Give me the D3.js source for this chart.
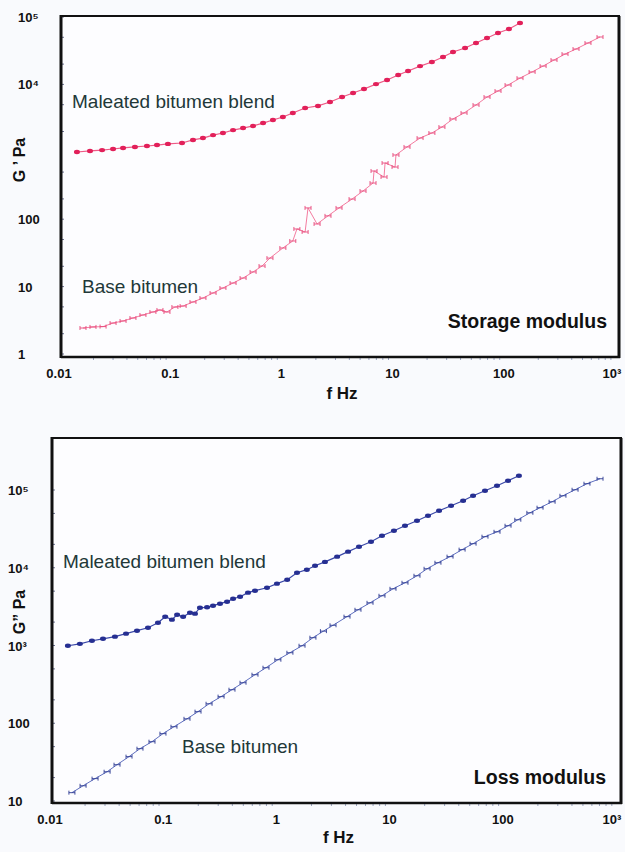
<!DOCTYPE html>
<html>
<head>
<meta charset="utf-8">
<script src="https://cdn.jsdelivr.net/npm/d3@7"></script>
<style>
  body { margin: 0; background: #f9fafd; }
  svg { display: block; font-family: "Liberation Sans", Arial, sans-serif; }
</style>
</head>
<body>
<div class="gv-chart-wrapper"></div>
<script>
// storage modulus G' (Pa) vs frequency (Hz)
const storageBlendFreq = [0.0142, 0.0186, 0.0239, 0.0300, 0.0369, 0.0472, 0.0605, 0.0745, 0.0935, 0.125, 0.157, 0.193, 0.238, 0.292, 0.360, 0.443, 0.545, 0.670, 0.822, 1.01, 1.24, 1.60, 2.09, 2.68, 3.44, 4.32, 5.42, 6.95, 8.73, 11.0, 13.5, 17.3, 22.1, 27.8, 34.2, 43.9, 55.1, 69.2, 86.9, 109, 137]
const storageBlendG = [993, 1030, 1060, 1100, 1140, 1180, 1220, 1260, 1310, 1350, 1500, 1600, 1770, 1900, 2100, 2250, 2420, 2670, 2960, 3280, 3770, 4470, 4790, 5480, 6500, 7450, 8550, 10100, 11600, 13800, 15800, 18700, 21500, 25500, 30300, 34700, 41100, 48800, 57900, 66400, 81500]

const storageBaseFreq = [0.0161, 0.0198, 0.0244, 0.0300, 0.0369, 0.0453, 0.0557, 0.0685, 0.0792, 0.0916, 0.108, 0.128, 0.157, 0.193, 0.238, 0.292, 0.360, 0.443, 0.545, 0.656, 0.773, 1.01, 1.24, 1.35, 1.60, 1.70, 2.05, 2.57, 3.23, 4.23, 5.31, 6.53, 6.67, 8.20, 8.38, 10.3, 10.5, 13.2, 17.3, 22.1, 27.2, 34.2, 43.0, 55.1, 69.2, 86.9, 107, 137, 176, 221, 277, 348, 437, 560, 718]
const storageBaseG = [2.43, 2.52, 2.55, 2.88, 3.09, 3.42, 3.79, 4.20, 4.50, 4.20, 4.98, 5.15, 5.91, 6.77, 8.04, 9.53, 11.3, 13.4, 16.5, 20.2, 26.5, 37.4, 47.5, 71.6, 64.6, 147, 84.9, 112, 147, 199, 262, 344, 519, 423, 682, 594, 897, 1180, 1600, 1900, 2330, 3070, 3770, 4950, 6500, 7980, 9790, 12400, 15300, 18700, 23000, 28200, 33500, 41100, 50500]

// loss modulus G'' (Pa) vs frequency (Hz)
const lossBlendFreq = [0.0141, 0.0180, 0.0230, 0.0288, 0.0367, 0.0460, 0.0575, 0.0719, 0.0881, 0.102, 0.117, 0.130, 0.147, 0.169, 0.187, 0.207, 0.239, 0.270, 0.311, 0.359, 0.406, 0.468, 0.550, 0.634, 0.809, 0.991, 1.22, 1.49, 1.82, 2.15, 2.63, 3.37, 4.21, 5.26, 6.71, 8.39, 10.7, 13.4, 17.1, 21.4, 26.8, 34.2, 43.7, 53.5, 68.2, 87.1, 109, 136]
const lossBlendG = [993, 1050, 1150, 1220, 1300, 1420, 1550, 1690, 1960, 2340, 2150, 2490, 2340, 2640, 2570, 3060, 3100, 3250, 3450, 3660, 4000, 4240, 4780, 5070, 5530, 6240, 7020, 8630, 9440, 10600, 11900, 13900, 16100, 18600, 21600, 25800, 29900, 34700, 40300, 46700, 54100, 62800, 72800, 84300, 97900, 113500, 131500, 152800]

const lossBaseFreq = [0.0153, 0.0192, 0.0245, 0.0313, 0.0383, 0.0489, 0.0611, 0.0780, 0.0975, 0.122, 0.159, 0.199, 0.249, 0.318, 0.397, 0.497, 0.634, 0.793, 1.01, 1.29, 1.65, 2.06, 2.55, 3.10, 4.12, 5.15, 6.58, 8.39, 10.5, 13.4, 17.1, 21.0, 26.2, 33.5, 42.8, 53.5, 68.2, 87.1, 109, 133, 170, 209, 267, 333, 426, 543, 708]
const lossBaseG = [12.8, 15.7, 19.4, 23.8, 29.3, 37.2, 47.1, 57.9, 73.5, 90.2, 114, 141, 178, 220, 270, 332, 421, 518, 656, 807, 993, 1260, 1530, 1820, 2350, 2880, 3540, 4360, 5360, 6410, 7890, 9700, 11600, 13900, 17100, 20400, 25100, 29000, 34700, 41400, 50900, 59200, 70600, 84300, 100700, 120500, 139600]

const freqTicks = [0.01, 0.1, 1, 10, 100, 1000]
const freqTickLabels = ['0.01', '0.1', '1', '10', '100', '10³']
const storageTicks = [1, 10, 100, 1e4, 1e5]
const storageTickLabels = ['1', '10', '100', '10⁴', '10⁵']
const lossTicks = [10, 100, 1e3, 1e4, 1e5]
const lossTickLabels = ['10', '100', '10³', '10⁴', '10⁵']

const zip = (fs, gs) => fs.map((f, i) => ({ f: f, g: gs[i] }))

const svg = d3.select('.gv-chart-wrapper')
  .append('svg')
  .attr('width', 625)
  .attr('height', 852)

const panels = [
  {
    frame: {left: 61, top: 16, right: 619, bottom: 357},
    x: d3.scaleLog().domain([0.01, 1000]).range([60, 616]),
    y: d3.scaleLog().domain([1, 1e5]).range([354, 17]),
    yTicks: storageTicks, yTickLabels: storageTickLabels, yLabelX: 18,
    yTitle: 'G \u2019 Pa', yTitleY: 160,
    xTitleY: 399,
    title: 'Storage modulus', titleX: 607, titleY: 328,
    blend: zip(storageBlendFreq, storageBlendG),
    base: zip(storageBaseFreq, storageBaseG),
    blendLine: '#ee5a86', blendDot: '#e2205a',
    baseLine: '#f47ca0', baseMark: '#e8487a',
    blendText: [72, 108], baseText: [82, 293]
  },
  {
    frame: {left: 52, top: 438, right: 621, bottom: 803},
    x: d3.scaleLog().domain([0.01, 1000]).range([51, 617]),
    y: d3.scaleLog().domain([10, 1e5]).range([801, 490]),
    yTicks: lossTicks, yTickLabels: lossTickLabels, yLabelX: 8,
    yTitle: 'G\u201D Pa', yTitleY: 612,
    xTitleY: 843,
    title: 'Loss modulus', titleX: 606, titleY: 784,
    blend: zip(lossBlendFreq, lossBlendG),
    base: zip(lossBaseFreq, lossBaseG),
    blendLine: '#3a48a8', blendDot: '#262f92',
    baseLine: '#6070c0', baseMark: '#2c3a92',
    blendText: [63, 568], baseText: [182, 753]
  }
]

panels.forEach(p => {
  const g = svg.append('g')
  const fr = p.frame

  g.append('rect')
    .attr('x', fr.left).attr('y', fr.top)
    .attr('width', fr.right - fr.left).attr('height', fr.bottom - fr.top)
    .style('fill', '#fdfdff')

  // minor ticks
  const minorX = []
  freqTicks.slice(0, -1).forEach(t => [2, 3, 4, 5, 6, 7, 8, 9].forEach(m => minorX.push(t * m)))
  g.append('g').selectAll('line')
    .data(minorX)
    .enter().append('line')
    .attr('x1', d => p.x(d)).attr('x2', d => p.x(d))
    .attr('y1', fr.bottom).attr('y2', fr.bottom + 3)
    .style('stroke', '#9aa4c0').style('stroke-width', 1)

  const yDom = p.y.domain()
  const minorY = []
  for (let t = yDom[0]; t < 1e5; t *= 10) [2, 5].forEach(m => minorY.push(t * m))
  g.append('g').selectAll('line')
    .data(minorY.concat(p.yTicks))
    .enter().append('line')
    .attr('x1', fr.left).attr('x2', fr.left + 3)
    .attr('y1', d => p.y(d)).attr('y2', d => p.y(d))
    .style('stroke', '#6a7090').style('stroke-width', 1)

  // frame
  g.append('line').attr('x1', fr.left).attr('x2', fr.right + 1).attr('y1', fr.top).attr('y2', fr.top)
    .style('stroke', '#111').style('stroke-width', 2.2)
  g.append('line').attr('x1', fr.right).attr('x2', fr.right).attr('y1', fr.top).attr('y2', fr.bottom + 1)
    .style('stroke', '#111').style('stroke-width', 3)
  g.append('line').attr('x1', fr.left).attr('x2', fr.right + 1).attr('y1', fr.bottom).attr('y2', fr.bottom)
    .style('stroke', '#111').style('stroke-width', 2.6)
  g.append('line').attr('x1', fr.left).attr('x2', fr.left).attr('y1', fr.top - 1).attr('y2', fr.bottom + 1)
    .style('stroke', '#111').style('stroke-width', 3)

  // tick labels
  g.append('g').selectAll('text')
    .data(freqTicks)
    .enter().append('text')
    .attr('x', d => Math.min(p.x(d) - 1, 612))
    .attr('y', fr.bottom + 21)
    .attr('text-anchor', 'middle')
    .style('font-size', '13px').style('font-weight', 'bold').style('fill', '#111')
    .text((d, i) => freqTickLabels[i])

  g.append('g').selectAll('text')
    .data(p.yTicks)
    .enter().append('text')
    .attr('x', p.yLabelX)
    .attr('y', d => p.y(d) + 5)
    .style('font-size', '13px').style('font-weight', 'bold').style('fill', '#111')
    .text((d, i) => p.yTickLabels[i])

  // axis titles
  g.append('text')
    .attr('x', (fr.left + fr.right) / 2 + 2)
    .attr('y', p.xTitleY)
    .attr('text-anchor', 'middle')
    .style('font-size', '17px').style('font-weight', 'bold').style('fill', '#111')
    .text('f Hz')

  g.append('text')
    .attr('transform', 'translate(25,' + p.yTitleY + ') rotate(-90)')
    .attr('text-anchor', 'middle')
    .style('font-size', '16px').style('font-weight', 'bold').style('fill', '#111')
    .text(p.yTitle)

  g.append('text')
    .attr('x', p.titleX).attr('y', p.titleY)
    .attr('text-anchor', 'end')
    .style('font-size', '19.5px').style('font-weight', 'bold').style('fill', '#111')
    .text(p.title)

  // series
  const line = d3.line().x(d => p.x(d.f)).y(d => p.y(d.g))

  g.append('path')
    .data([p.base])
    .attr('d', line)
    .style('fill', 'none').style('stroke', p.baseLine).style('stroke-width', 1)

  g.append('g').selectAll('path')
    .data(p.base)
    .enter().append('path')
    .attr('transform', d => 'translate(' + p.x(d.f) + ',' + p.y(d.g) + ')')
    .attr('d', 'M-3,-2V2M-3,0H3M3,-2V2')
    .style('fill', 'none').style('stroke', p.baseMark).style('stroke-width', 0.9)

  g.append('path')
    .data([p.blend])
    .attr('d', line)
    .style('fill', 'none').style('stroke', p.blendLine).style('stroke-width', 1.2)

  g.append('g').selectAll('ellipse')
    .data(p.blend)
    .enter().append('ellipse')
    .attr('cx', d => p.x(d.f))
    .attr('cy', d => p.y(d.g))
    .attr('rx', 3).attr('ry', 2.2)
    .style('fill', p.blendDot)

  // series labels
  g.append('text')
    .attr('x', p.blendText[0]).attr('y', p.blendText[1])
    .style('font-size', '19px').style('fill', '#223838')
    .text('Maleated bitumen blend')

  g.append('text')
    .attr('x', p.baseText[0]).attr('y', p.baseText[1])
    .style('font-size', '19px').style('fill', '#223838')
    .text('Base bitumen')
})
</script>
</body>
</html>
